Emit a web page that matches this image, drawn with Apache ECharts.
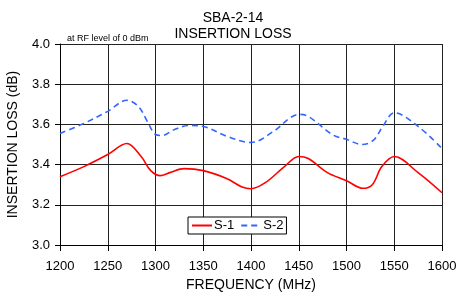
<!DOCTYPE html>
<html>
<head>
<meta charset="utf-8">
<script src="https://cdn.jsdelivr.net/npm/echarts@6/dist/echarts.min.js"></script>
<style>
  html, body { margin: 0; padding: 0; background: #fff; }
  #chart { width: 457px; height: 292px; }
</style>
</head>
<body>
<div id="chart"></div>
<script>
// frequency (MHz), insertion loss (dB)
const s1Freq = [1200, 1225, 1250, 1270, 1285, 1295, 1305, 1315, 1330, 1350, 1375, 1390, 1400, 1415, 1435, 1450, 1460, 1480, 1500, 1517, 1527, 1537, 1550, 1575, 1600];
const s1Loss = [3.34, 3.39, 3.45, 3.505, 3.44, 3.37, 3.345, 3.36, 3.38, 3.37, 3.33, 3.29, 3.28, 3.31, 3.39, 3.44, 3.43, 3.36, 3.32, 3.282, 3.30, 3.39, 3.44, 3.36, 3.26];
const s2Freq = [1200, 1225, 1250, 1270, 1282, 1292, 1300, 1307, 1320, 1335, 1350, 1375, 1400, 1425, 1440, 1450, 1460, 1486, 1500, 1516, 1528, 1538, 1550, 1575, 1600];
const s2Loss = [3.555, 3.605, 3.665, 3.72, 3.69, 3.61, 3.55, 3.545, 3.575, 3.595, 3.59, 3.54, 3.51, 3.57, 3.63, 3.65, 3.64, 3.547, 3.526, 3.50, 3.52, 3.59, 3.658, 3.59, 3.48];

const pairs = (xs, ys) => xs.map((x, i) => [x, ys[i]]);

const chart = echarts.init(document.getElementById("chart"));
const font = "Liberation Sans, Arial, sans-serif";

chart.setOption({
  animation: false,
  textStyle: { fontFamily: font, color: "#000" },
  title: [
    {
      text: "SBA-2-14\nINSERTION LOSS",
      left: 228,
      top: 5,
      textAlign: "center",
      textStyle: { fontSize: 14, fontWeight: "normal", color: "#000", lineHeight: 16, fontFamily: font },
    },
    {
      text: "at RF level of 0 dBm",
      left: 62,
      top: 29,
      textStyle: { fontSize: 9, fontWeight: "normal", color: "#000", fontFamily: font },
    },
  ],
  grid: { left: 60, top: 44, width: 382, height: 201, outerBoundsMode: "none" },
  legend: {
    left: 188,
    top: 217,
    orient: "horizontal",
    backgroundColor: "#fff",
    borderColor: "#000",
    borderWidth: 1,
    borderRadius: 0,
    padding: [2, 3],
    itemGap: 6,
    itemWidth: 20,
    itemHeight: 10,
    itemStyle: { opacity: 0 },
    textStyle: { fontSize: 13, color: "#000", fontFamily: font, padding: [0, 0, 0, -3] },
    data: ["S-1", "S-2"],
  },
  xAxis: {
    type: "value",
    min: 1200,
    max: 1600,
    interval: 50,
    name: "FREQUENCY (MHz)",
    nameLocation: "middle",
    nameGap: 33,
    nameTextStyle: { fontSize: 14, color: "#000", fontFamily: font },
    axisLine: { lineStyle: { color: "#000", width: 1 } },
    axisTick: { show: true, length: 6, lineStyle: { color: "#000" } },
    axisLabel: { fontSize: 13, color: "#000", margin: 15, fontFamily: font, formatter: (v) => String(v) },
    splitLine: { show: true, lineStyle: { color: "#222", width: 1 } },
  },
  yAxis: {
    type: "value",
    min: 3.0,
    max: 4.0,
    interval: 0.2,
    name: "INSERTION LOSS (dB)",
    nameLocation: "middle",
    nameGap: 40,
    nameTextStyle: { fontSize: 14, color: "#000", fontFamily: font },
    axisLine: { show: true, lineStyle: { color: "#000", width: 1 } },
    axisTick: { show: true, length: 5, lineStyle: { color: "#000" } },
    axisLabel: { fontSize: 13, color: "#000", margin: 10, fontFamily: font, formatter: (v) => v.toFixed(1) },
    splitLine: { show: true, lineStyle: { color: "#222", width: 1 } },
  },
  series: [
    {
      name: "S-1",
      type: "line",
      data: pairs(s1Freq, s1Loss),
      smooth: 0.35,
      symbol: "none",
      lineStyle: { color: "#ff0000", width: 1.6 },
      itemStyle: { color: "#ff0000" },
    },
    {
      name: "S-2",
      type: "line",
      data: pairs(s2Freq, s2Loss),
      smooth: 0.35,
      symbol: "none",
      lineStyle: { color: "#3366ff", width: 1.6, type: [6, 4] },
      itemStyle: { color: "#3366ff" },
    },
  ],
});
</script>
</body>
</html>
